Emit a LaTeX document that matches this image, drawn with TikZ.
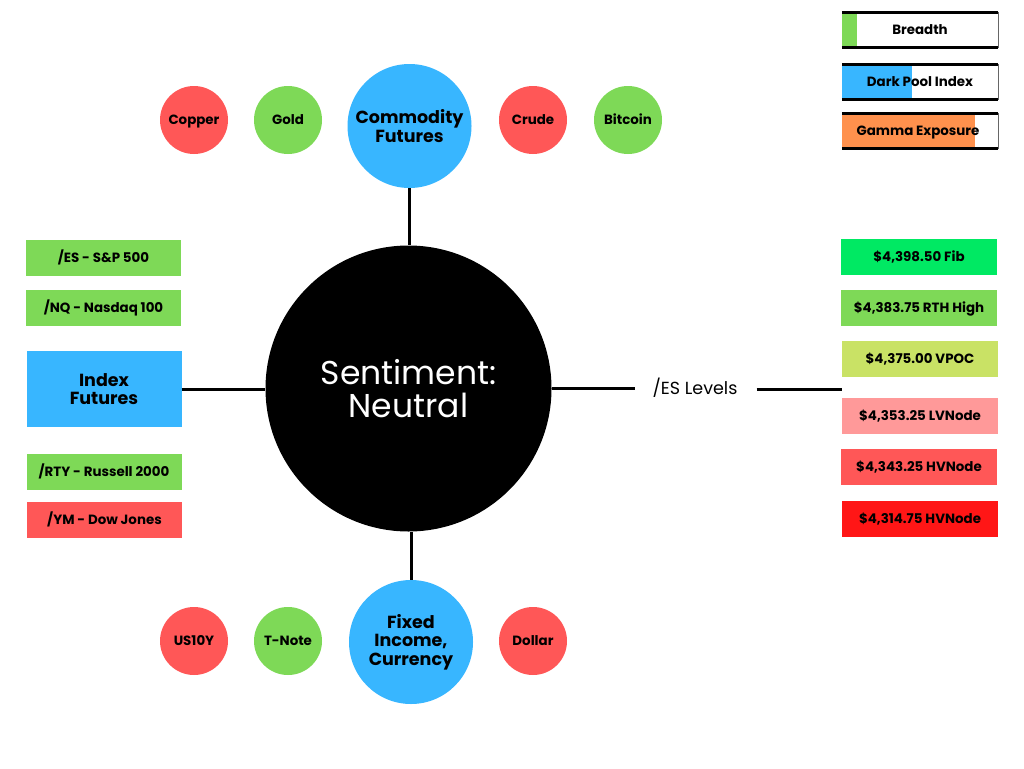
\documentclass[tikz,border=0pt]{standalone}
\usepackage{fontspec}
\setmainfont{Poppins}
\definecolor{cred}{HTML}{FF5757}
\definecolor{cgreen}{HTML}{7ED957}
\definecolor{cblue}{HTML}{38B6FF}
\definecolor{cfib}{HTML}{00E963}
\definecolor{cvpoc}{HTML}{C9E265}
\definecolor{clv}{HTML}{FF9999}
\definecolor{chv}{HTML}{FF1616}
\definecolor{corange}{HTML}{FF914D}
\begin{document}
\begin{tikzpicture}[x=1pt,y=-1pt,
  conn/.style={line width=3pt, black},
  lbl/.style={font=\bfseries\fontsize{13.4}{15}\selectfont, text height=11pt, text depth=1.6pt},
  smallc/.style={circle, minimum size=68pt, inner sep=0pt, lbl},
  bigc/.style={circle, fill=cblue, minimum size=124pt, inner sep=0pt, align=center, font=\bfseries\fontsize{17.5}{18.5}\selectfont},
  lbox/.style={rectangle, minimum width=155pt, minimum height=36pt, inner sep=0pt, lbl},
  leg/.style={rectangle, minimum width=156pt, minimum height=35pt, inner sep=0pt},
]
\useasboundingbox[fill=white] (0,0) rectangle (1024,768);

% center
\node[circle, fill=black, minimum size=286pt, inner sep=0pt, text=white, align=center,
  font=\fontsize{33}{33}\selectfont] (center) at (408.5,388.5) {Sentiment:\\Neutral};

% big circles
\node[bigc] (comm) at (409.5,126) {Commodity\\Futures};
\node[bigc] (fixed) at (411,642) {Fixed\\Income,\\Currency};

% small circles top
\node[smallc, fill=cred] (copper) at (194,120) {Copper};
\node[smallc, fill=cgreen] (gold) at (288,120) {Gold};
\node[smallc, fill=cred] (crude) at (533,120) {Crude};
\node[smallc, fill=cgreen] (bitcoin) at (628,120) {Bitcoin};
% small circles bottom
\node[smallc, fill=cred] (us10y) at (194,641) {US10Y};
\node[smallc, fill=cgreen] (tnote) at (288,641) {T-Note};
\node[smallc, fill=cred] (dollar) at (533,641) {Dollar};

% left boxes
\node[lbox, fill=cgreen] (es) at (103.5,258) {/ES - S\&P 500};
\node[lbox, fill=cgreen] (nq) at (103.5,308) {/NQ - Nasdaq 100};
\node[rectangle, minimum width=155pt, inner sep=0pt, fill=cblue, minimum height=76pt, align=center, font=\bfseries\fontsize{17.5}{18.5}\selectfont] (index) at (104,389) {Index\\Futures};
\node[lbox, fill=cgreen] (rty) at (104,472) {/RTY - Russell 2000};
\node[lbox, fill=cred] (ym) at (104.5,520) {/YM - Dow Jones};

% right boxes
\node[lbox, minimum width=156pt, fill=cfib] (fib) at (919,257) {\$4,398.50 Fib};
\node[lbox, minimum width=156pt, fill=cgreen] (rth) at (919,308) {\$4,383.75 RTH High};
\node[lbox, minimum width=156pt, fill=cvpoc] (vpoc) at (920,359) {\$4,375.00 VPOC};
\node[lbox, minimum width=156pt, fill=clv] (lv) at (920,416) {\$4,353.25 LVNode};
\node[lbox, minimum width=156pt, fill=cred] (hv1) at (919,467) {\$4,343.25 HVNode};
\node[lbox, minimum width=156pt, fill=chv] (hv2) at (920,519) {\$4,314.75 HVNode};

% /ES Levels
\node[inner sep=0pt, font=\fontsize{17.5}{19}\selectfont] (eslev) at (695,388) {/ES Levels};
\coordinate (lvl) at (842,389);

% connectors
\draw[conn] (comm.south) -- (comm.south |- center.north);
\draw[conn] (fixed.north) -- (fixed.north |- center.south);
\draw[conn] (index.east) -- (index.east -| center.west);
\draw[conn] (center.east) -- ([xshift=-17pt]eslev.west |- center.east);
\draw[conn] ([xshift=19pt]eslev.east |- lvl) -- (lvl);

% legend
\node[leg] (breadth) at (920,30) {};
\node[leg] (dark) at (920,82) {};
\node[leg] (gamma) at (920,131) {};
\fill[cgreen] (breadth.north west) rectangle ([xshift=15pt]breadth.south west);
\fill[cblue] (dark.north west) rectangle ([xshift=70pt]dark.south west);
\fill[corange] (gamma.north west) rectangle ([xshift=133pt]gamma.south west);
\foreach \b in {breadth,dark,gamma}{
  \draw[line width=3pt] (\b.north west) -- (\b.north east);
  \draw[line width=3pt] (\b.south west) -- (\b.south east);
  \draw[line width=1pt, black!60] (\b.north east) -- (\b.south east);
}
\node[lbl] (breadthT) at (breadth) {Breadth};
\node[lbl] (darkT) at (dark) {Dark Pool Index};
\node[lbl] (gammaT) at ([xshift=-2pt]gamma) {Gamma Exposure};
\end{tikzpicture}
\end{document}
